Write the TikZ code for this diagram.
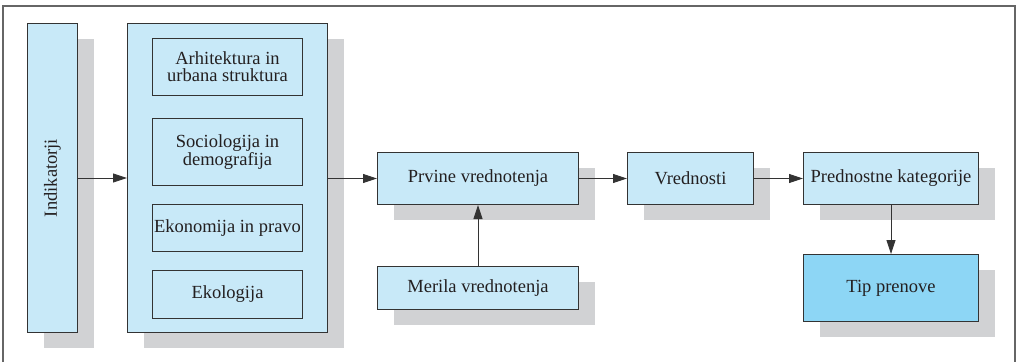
\documentclass[tikz,border=0pt]{standalone}
\usepackage{fontspec}
\setmainfont{Liberation Serif}
\usetikzlibrary{shadows,arrows.meta}
\definecolor{lblue}{HTML}{C8E9F8}
\definecolor{dblue}{HTML}{8DD6F5}
\definecolor{shd}{HTML}{D1D2D4}
\definecolor{edge}{HTML}{333333}
\definecolor{txt}{HTML}{231F20}
\tikzset{
  box/.style={draw=edge, line width=1pt, fill=lblue, anchor=north west, inner sep=0pt, align=center,
    font=\fontsize{18.5}{17}\selectfont, text=txt},
  shbox/.style={box, drop shadow={shadow xshift=16pt, shadow yshift=-15pt, fill=shd, opacity=1}},
  inbox/.style={box},
  conn/.style={draw=edge, line width=0.9pt, -{Triangle[length=14pt,width=9pt]}},
}
\begin{document}
\begin{tikzpicture}[x=1pt,y=-1pt]
\useasboundingbox (0,0) rectangle (1016,362);
\draw[black!60, line width=1.5pt] (3,362) -- (3,6) -- (1015,6) -- (1015,362);
% Indikatorji
\node[shbox, minimum width=50pt, minimum height=309pt] (ind) at (27,23) {};
\node[rotate=90, font=\fontsize{18.5}{17}\selectfont, text=txt] (indt) at (ind.center) {Indikatorji};
% big box
\node[shbox, minimum width=200pt, minimum height=309pt] (big) at (127,23) {};
\node[inbox, minimum width=150pt, minimum height=57pt] (arh) at (152,38) {Arhitektura in\\urbana struktura};
\node[inbox, minimum width=150pt, minimum height=67pt] (soc) at (152,118) {Sociologija in\\demografija};
\node[inbox, minimum width=150pt, minimum height=47pt] (eko) at (152,204) {Ekonomija in pravo};
\node[inbox, minimum width=150pt, minimum height=48pt] (ekl) at (152,270) {Ekologija};
% right part
\node[shbox, minimum width=201pt, minimum height=52pt] (prv) at (377,152) {Prvine vrednotenja};
\node[shbox, minimum width=201pt, minimum height=43pt] (mer) at (377,266) {Merila vrednotenja};
\node[shbox, minimum width=126pt, minimum height=52pt] (vre) at (627,152) {Vrednosti};
\node[shbox, minimum width=175pt, minimum height=52pt] (pre) at (803,152) {Prednostne kategorije};
\node[shbox, fill=dblue, minimum width=175pt, minimum height=67pt] (tip) at (803,254) {Tip prenove};
% connectors
\draw[conn] (ind) -- (big);
\draw[conn] (big.east |- prv.west) -- (prv.west);
\draw[conn] (prv) -- (vre);
\draw[conn] (vre) -- (pre);
\draw[conn] (pre) -- (tip);
\draw[conn] (mer) -- (prv);
\end{tikzpicture}
\end{document}
